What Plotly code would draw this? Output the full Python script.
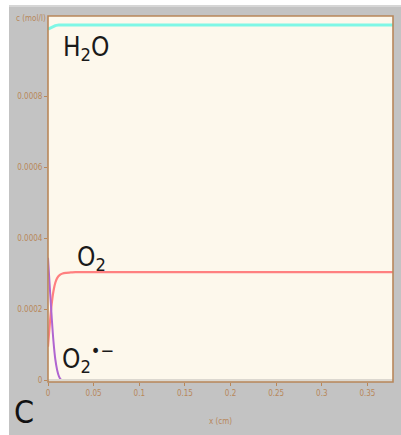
import plotly.graph_objects as go

# Data
x_h2o = [0.0, 0.004, 0.008, 0.012, 0.02, 0.05, 0.1, 0.2, 0.3, 0.378]
c_h2o = [0.000988, 0.000994, 0.000998, 0.001, 0.001, 0.001, 0.001, 0.001, 0.001, 0.001]

x_o2 = [0.0, 0.002, 0.004, 0.006, 0.008, 0.01, 0.013, 0.016, 0.02, 0.025, 0.03, 0.05, 0.1, 0.2, 0.3, 0.378]
c_o2 = [0.000095, 0.00016, 0.000215, 0.000252, 0.000275, 0.000288, 0.000297, 0.000301, 0.000303, 0.000304, 0.000305, 0.000305, 0.000305, 0.000305, 0.000305, 0.000305]

x_sup = [0.0, 0.002, 0.004, 0.006, 0.008, 0.01, 0.012, 0.014, 0.016]
c_sup = [0.000345, 0.00026, 0.00018, 0.00011, 0.00006, 0.00003, 0.000012, 0.000003, 0.0]

x_ticks = [0, 0.05, 0.1, 0.15, 0.2, 0.25, 0.3, 0.35]
x_ticklabels = ["0", "0.05", "0.1", "0.15", "0.2", "0.25", "0.3", "0.35"]
y_ticks = [0, 0.0002, 0.0004, 0.0006, 0.0008]
y_ticklabels = ["0", "0.0002", "0.0004", "0.0006", "0.0008"]

W, H = 401, 435
L, R, T, B = 48, 8, 16, 53
pw, ph = W - L - R, H - T - B

brown = "#b8875a"
narrow = "DejaVu Sans Condensed, Liberation Sans"
tickfont = dict(family="DejaVu Sans Condensed, DejaVu Sans", size=8, color=brown)

fig = go.Figure()
fig.add_trace(go.Scatter(x=x_h2o, y=c_h2o, mode="lines",
                         line=dict(color="#7ff7e6", width=3), hoverinfo="skip"))
fig.add_trace(go.Scatter(x=x_o2, y=c_o2, mode="lines",
                         line=dict(color="#ff8080", width=2.2, shape="spline"), hoverinfo="skip"))
fig.add_trace(go.Scatter(x=x_sup, y=c_sup, mode="lines",
                         line=dict(color="#b066d0", width=2, shape="spline"), hoverinfo="skip"))

def px_x(p):
    return (p - L) / pw

def px_y(p):
    return 1 - (p - T) / ph

shapes = [
    dict(type="rect", xref="paper", yref="paper", layer="below",
         x0=px_x(9), x1=px_x(401), y0=px_y(435), y1=px_y(6),
         fillcolor="#c3c3c3", line=dict(width=0)),
    dict(type="rect", xref="paper", yref="paper", layer="below",
         x0=px_x(9), x1=px_x(401), y0=px_y(7), y1=px_y(5),
         fillcolor="#d6d6d6", line=dict(width=0)),
    dict(type="rect", xref="paper", yref="paper", layer="below",
         x0=0, x1=1, y0=0, y1=1, fillcolor="#fdf8ec", line=dict(width=0)),
    dict(type="rect", xref="paper", yref="paper", layer="above",
         x0=0, x1=1, y0=0, y1=px_y(379), fillcolor="#dcd8d0", line=dict(width=0)),
    dict(type="rect", xref="paper", yref="paper", layer="above",
         x0=0, x1=1, y0=0, y1=1, line=dict(color=brown, width=1.6)),
]

annotations = [
    dict(text="H<sub>2</sub>O", x=px_x(61), y=px_y(49), xref="paper", yref="paper",
         xanchor="left", yanchor="middle", showarrow=False,
         font=dict(family=narrow, size=26, color="#1a1a1a")),
    dict(text="O<sub>2</sub>", x=px_x(75), y=px_y(258), xref="paper", yref="paper",
         xanchor="left", yanchor="middle", showarrow=False,
         font=dict(family=narrow, size=26, color="#1a1a1a")),
    dict(text="O<sub>2</sub><sup>•−</sup>", x=px_x(60), y=px_y(358), xref="paper", yref="paper",
         xanchor="left", yanchor="middle", showarrow=False,
         font=dict(family=narrow, size=26, color="#1a1a1a")),
    dict(text="C", x=px_x(24), y=px_y(412), xref="paper", yref="paper",
         xanchor="center", yanchor="middle", showarrow=False,
         font=dict(family=narrow, size=32, color="#111111")),
    dict(text="c (mol/l)", x=px_x(31), y=px_y(18), xref="paper", yref="paper",
         xanchor="center", yanchor="middle", showarrow=False,
         font=dict(family="DejaVu Sans Condensed, DejaVu Sans", size=8, color=brown)),
    dict(text="x (cm)", x=px_x(220), y=px_y(422), xref="paper", yref="paper",
         xanchor="center", yanchor="middle", showarrow=False,
         font=dict(family="DejaVu Sans Condensed, DejaVu Sans", size=8, color=brown)),
]

fig.update_layout(
    width=W, height=H,
    margin=dict(l=L, r=R, t=T, b=B, pad=0),
    paper_bgcolor="white", plot_bgcolor="rgba(0,0,0,0)",
    showlegend=False,
    shapes=shapes, annotations=annotations,
    xaxis=dict(range=[0, 0.378], tickvals=x_ticks, ticktext=x_ticklabels,
               showgrid=False, zeroline=False, ticks="outside", ticklen=3,
               tickcolor=brown, tickfont=tickfont, showline=False),
    yaxis=dict(range=[-0.000004, 0.001025], tickvals=y_ticks, ticktext=y_ticklabels,
               showgrid=False, zeroline=False, ticks="outside", ticklen=3,
               tickcolor=brown, tickfont=tickfont, showline=False),
)

fig.write_html("out.html")
